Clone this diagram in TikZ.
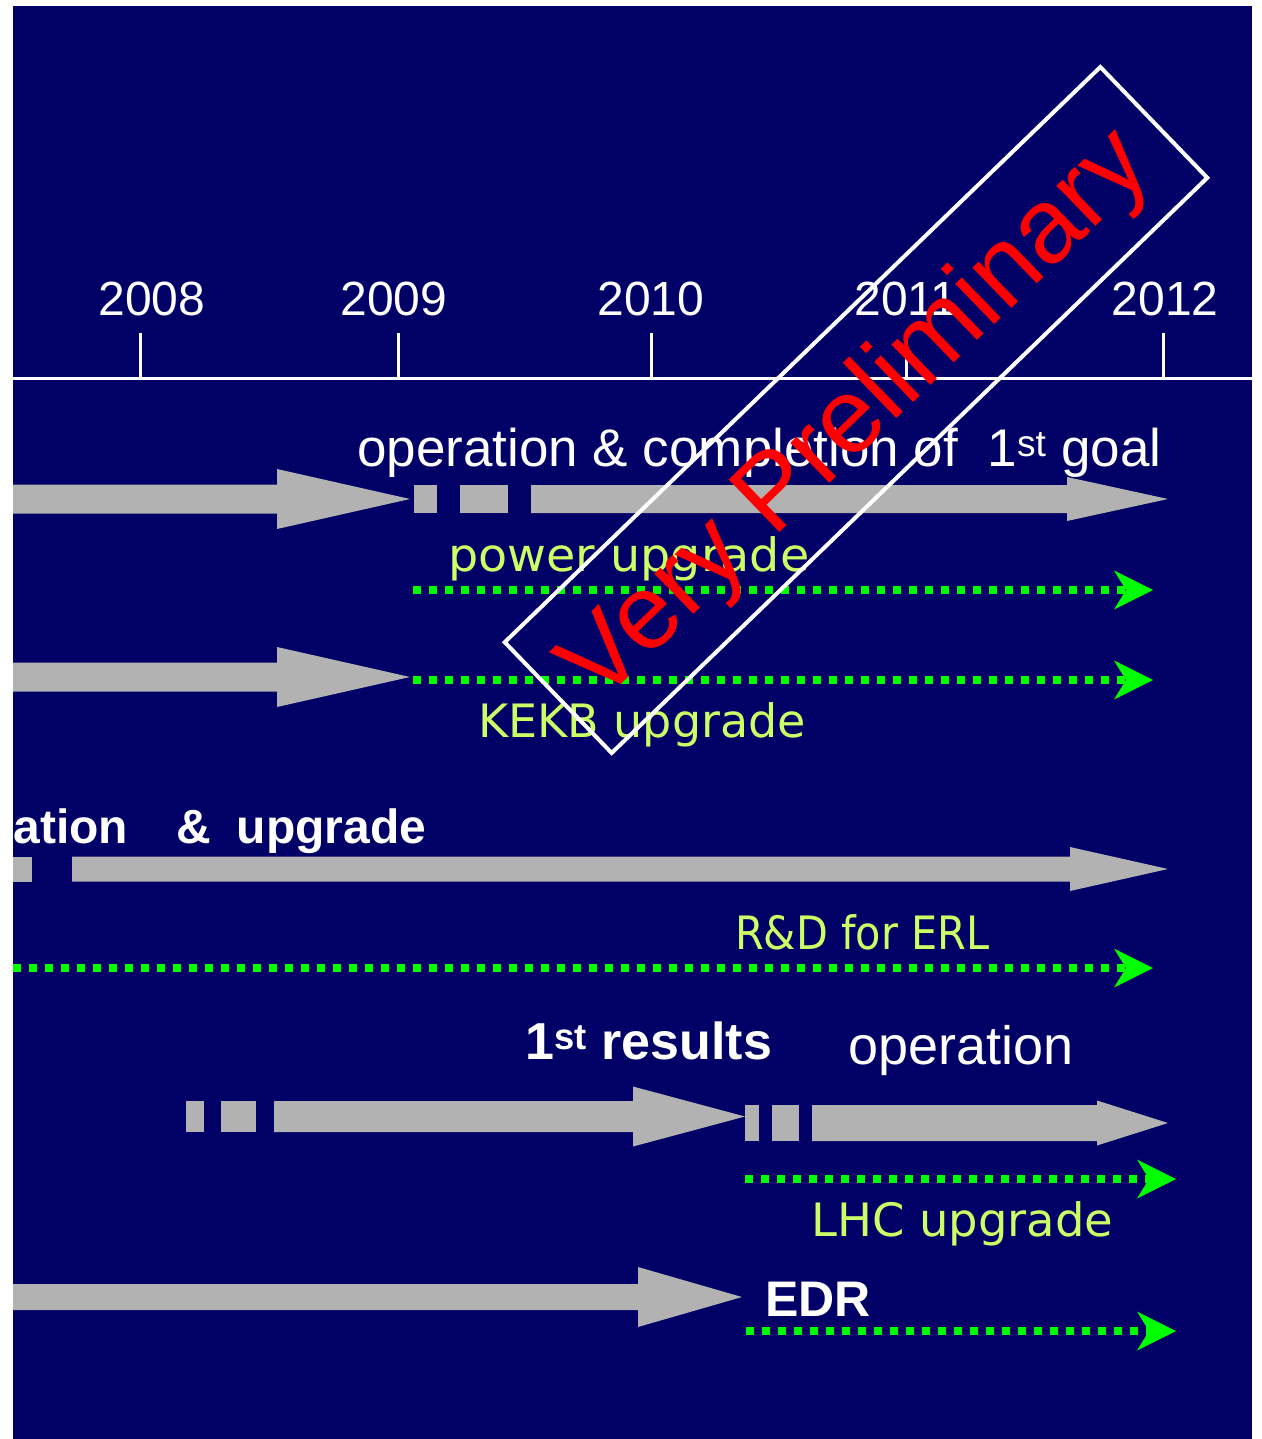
\documentclass[tikz,border=0pt]{standalone}
\usepackage{fontspec}
\setmainfont{Liberation Sans}
\newfontfamily\labelfont{DejaVu Sans}
\definecolor{navybg}{RGB}{0,0,102}
\definecolor{arrowgray}{RGB}{178,178,178}
\definecolor{dotgreen}{RGB}{0,255,0}
\definecolor{labelgreen}{RGB}{204,255,102}
\definecolor{prelimred}{RGB}{255,0,0}
\newcommand\setfs[1]{\fontsize{#1}{#1}\selectfont}
\newcommand\grayarrow[6]{% start x, head base x, tip x, y, shaft half, head half
  \fill[arrowgray] (#1,#4-#5) -- (#2,#4-#5) -- (#2,#4-#6) -- (#3,#4) -- (#2,#4+#6) -- (#2,#4+#5) -- (#1,#4+#5) -- cycle;}
\newcommand\greenarrow[3]{% start x, tip x, y
  \draw[dotgreen, line width=8, dash pattern=on 8 off 8] (#1,#3) -- (#2-27,#3);
  \fill[dotgreen] (#2,#3) -- (#2-39,#3-19.5) -- (#2-27,#3) -- (#2-39,#3+19.5) -- cycle;}
\tikzset{
  yearlabel/.style={text=white, inner sep=0, anchor=base, font=\setfs{48}},
  whitetext/.style={text=white, inner sep=0, anchor=base west},
  greenlabel/.style={text=labelgreen, inner sep=0, anchor=base west, font=\labelfont\setfs{46}},
  tickline/.style={white, line width=3},
  graybox/.style={fill=arrowgray},
}
\begin{document}
\begin{tikzpicture}[x=1pt,y=-1pt]
\useasboundingbox (0,0) rectangle (1261,1439);
\fill[white] (0,0) rectangle (1261,1439);
\fill[navybg] (13,6) rectangle (1252,1439);
\begin{scope}
\clip (13,6) rectangle (1252,1439);
% axis
\coordinate (axl) at (13,378);
\coordinate (axr) at (1252,378);
\draw[tickline] (axl) -- (axr);
\foreach \x/\lx/\yr in {140/152/2008, 398/394/2009, 651/651/2010, 906/906/2011, 1163/1165/2012}{
  \coordinate (t\yr) at (\x,333);
  \coordinate (b\yr) at (\x,378);
  \draw[tickline] (t\yr) -- (b\yr);
  \node[yearlabel] (y\yr) at (\lx,315) {\yr};
}
% row 1
\grayarrow{13}{277}{410}{499}{14.5}{30}
\fill[graybox] (414,485) rectangle (437,513);
\fill[graybox] (460,485) rectangle (508,513);
\grayarrow{531}{1067}{1168}{499}{14}{22}
\node[whitetext, font=\setfs{53}] (goal) at (357,466) {operation \& completion of\ \ 1\textsuperscript{st} goal};
% row 2
\greenarrow{413}{1153}{590}
\node[greenlabel, xscale=1.035] (power) at (448,571) {power upgrade};
% row 3
\grayarrow{13}{277}{410}{677}{14.5}{30}
\greenarrow{413}{1153}{680}
\node[greenlabel] (kekb) at (478,737) {KEKB upgrade};
% row 4
\fill[graybox] (13,857) rectangle (32,882);
\grayarrow{72}{1070}{1168}{869}{12.5}{22}
\node[whitetext, font=\bfseries\setfs{48}] (opupg) at (-90.7,843) {operation\hspace{48pt}\&\hspace{26pt}upgrade};
% row 5
\greenarrow{13}{1153}{968}
\node[greenlabel, xscale=0.9] (erl) at (735,949) {R\&D for ERL};
% row 6
\fill[graybox] (186,1101) rectangle (204,1132);
\fill[graybox] (221,1101) rectangle (256,1132);
\grayarrow{274}{633}{745}{1116.5}{15.5}{30}
\fill[graybox] (745,1105) rectangle (759,1141);
\fill[graybox] (772,1105) rectangle (799,1141);
\grayarrow{812}{1097}{1168}{1123}{18}{22.5}
\node[whitetext, font=\bfseries\setfs{52}] (first) at (525,1059) {1\textsuperscript{st} results};
\node[whitetext, font=\setfs{54}] (oper) at (848,1064) {operation};
% row 7
\greenarrow{745}{1176}{1179}
\node[greenlabel, xscale=1.01] (lhc) at (811,1236) {LHC upgrade};
\grayarrow{13}{638}{742}{1297}{13}{30}
\node[whitetext, font=\bfseries\setfs{50}] (edr) at (765,1316) {EDR};
\greenarrow{746}{1176}{1331}
% stamp
\node[text=prelimred, rotate=44, inner sep=0, font=\setfs{106}] (prelim) at (858,418) {Very Preliminary};
\node[draw=white, line width=4, rotate=44, minimum width=828, minimum height=154, inner sep=0] (stamp) at (856,410) {};
\end{scope}
\end{tikzpicture}
\end{document}
